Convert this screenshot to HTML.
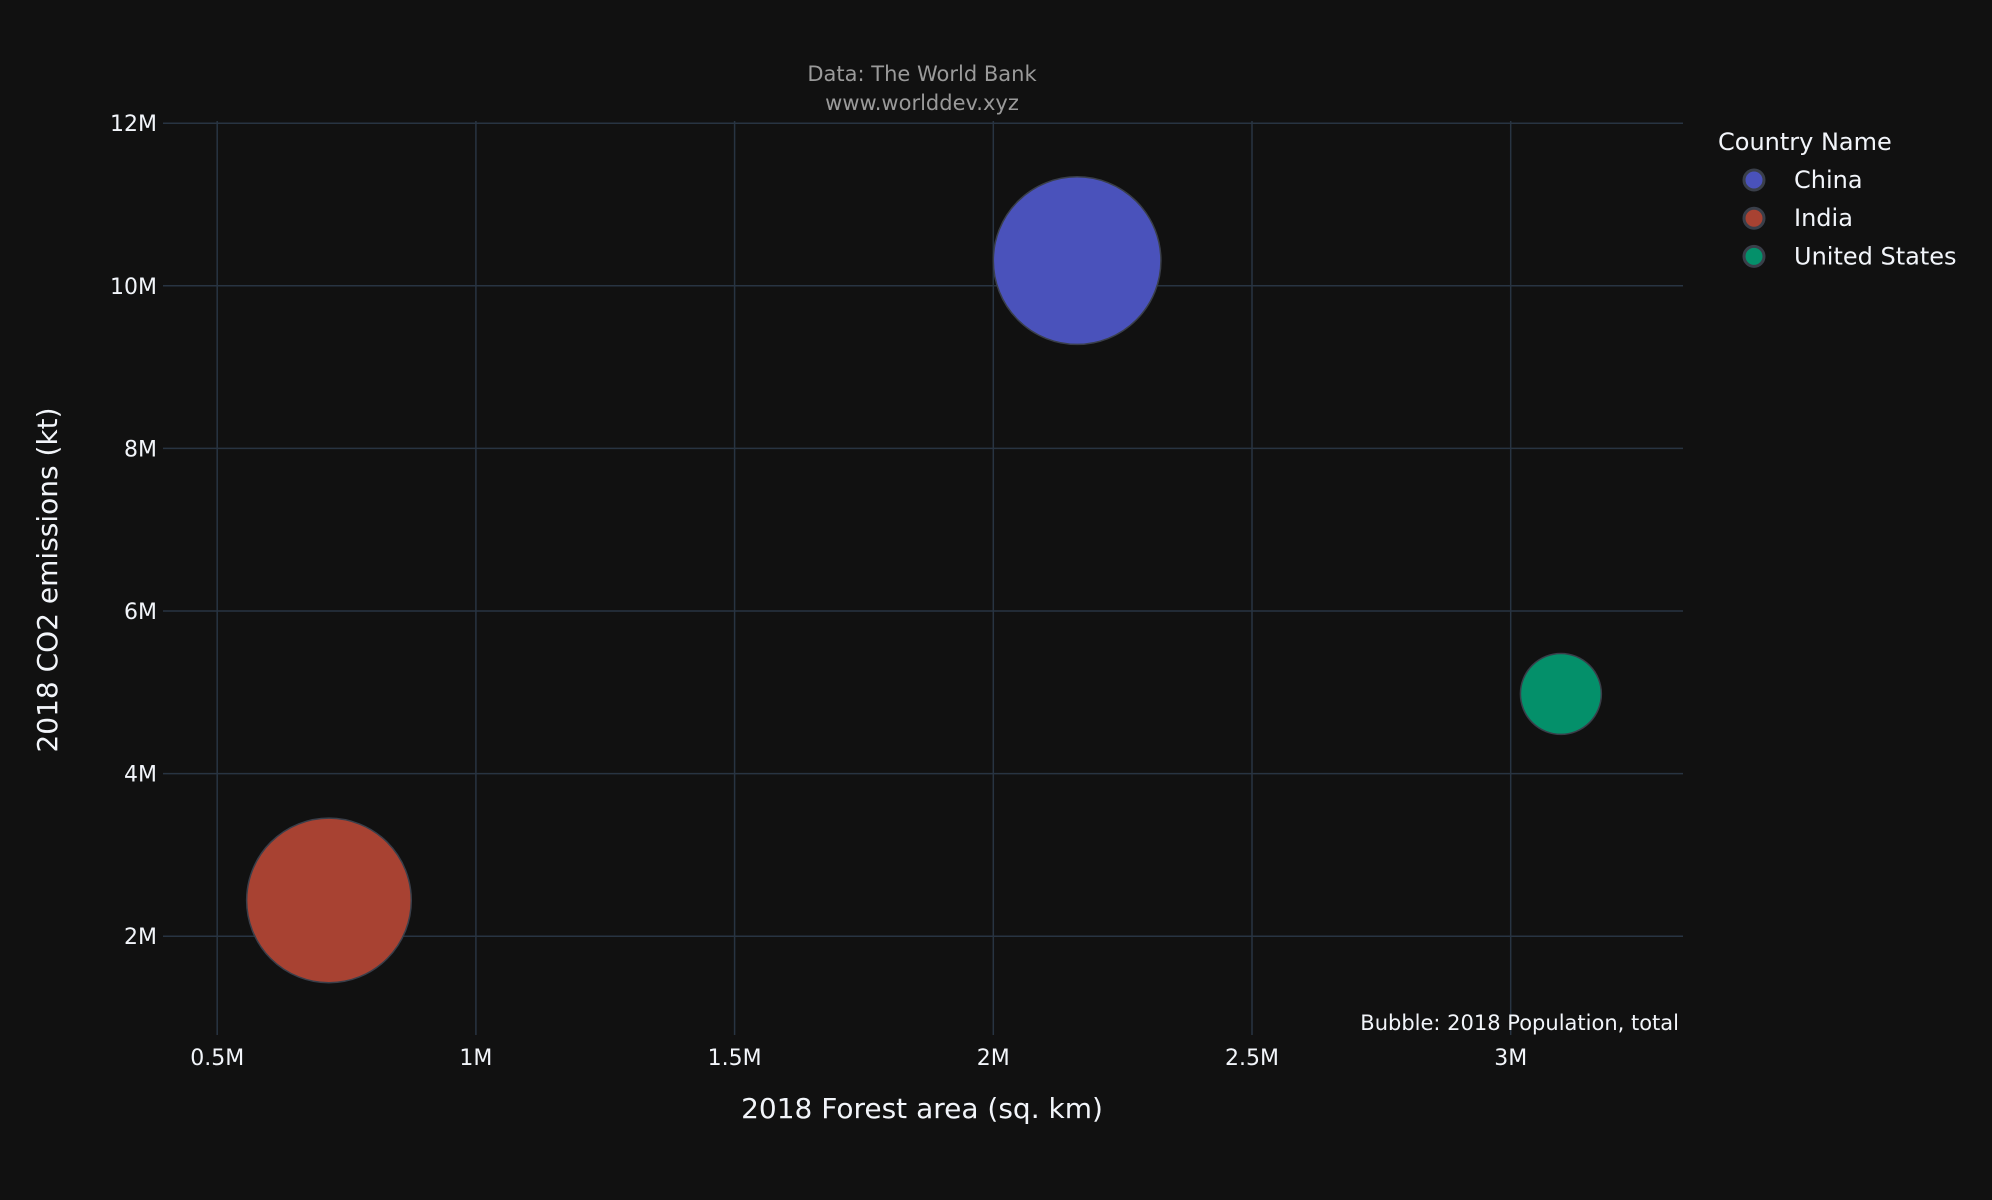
<!DOCTYPE html>
<html><head><meta charset="utf-8"><style>
body{margin:0;background:#111111;}
svg{display:block;font-family:"DejaVu Sans","Liberation Sans",sans-serif;}
</style></head><body>
<svg id="chart" width="1992" height="1200" viewBox="0 0 1992 1200">
<rect width="1992" height="1200" fill="#111111"/>
<g id="grid"></g><g id="marks"></g><g id="labels"></g>
<text x="922" y="81" text-anchor="middle" fill="#9a9a9a" font-size="21">Data: The World Bank</text>
<text x="922" y="110" text-anchor="middle" fill="#9a9a9a" font-size="21">www.worlddev.xyz</text>
<text x="922" y="1118" text-anchor="middle" fill="#f2f5fa" font-size="28">2018 Forest area (sq. km)</text>
<text transform="translate(57,580) rotate(-90)" text-anchor="middle" fill="#f2f5fa" font-size="28">2018 CO2 emissions (kt)</text>
<text x="1679" y="1030" text-anchor="end" fill="#f2f5fa" font-size="21">Bubble: 2018 Population, total</text>
<text x="1718" y="150" fill="#f2f5fa" font-size="24">Country Name</text>
<g id="legend"></g>
</svg>
<script>
const countries=["China","India","United States"];
const forestArea=[2162000,716000,3097000];
const co2=[10310000,2440000,4980000];
const population=[1402,1353,327];
const colors=["#4a52bb","#a84232","#04906a"];
const xTicks=[500000,1000000,1500000,2000000,2500000,3000000];
const xTickLabels=["0.5M","1M","1.5M","2M","2.5M","3M"];
const yTicks=[2000000,4000000,6000000,8000000,10000000,12000000];
const yTickLabels=["2M","4M","6M","8M","10M","12M"];
const L=163,R=1683,T=121,B=1035;
const xs=v=>217.2+(v-500000)/500000*258.7;
const ys=v=>123.2+(12000000-v)/2000000*162.6;
const rs=p=>83.8*Math.sqrt(p/1402);
const NS="http://www.w3.org/2000/svg";
function mk(t,a,p){const e=document.createElementNS(NS,t);for(const k in a)e.setAttribute(k,a[k]);p.appendChild(e);return e;}
const grid=document.getElementById('grid'),labels=document.getElementById('labels'),marks=document.getElementById('marks'),legend=document.getElementById('legend');
xTicks.forEach((v,i)=>{
 const l=mk('line',{x1:xs(v),x2:xs(v),y1:T,y2:B,stroke:'#283442','stroke-width':1.5},grid);
 
 
 const t=mk('text',{x:xs(v),y:1065,'text-anchor':'middle',fill:'#f2f5fa','font-size':22},labels);t.textContent=xTickLabels[i];
 
 
});
yTicks.forEach((v,i)=>{
 const l=mk('line',{x1:L,x2:R,y1:ys(v),y2:ys(v),stroke:'#283442','stroke-width':1.5},grid);
 
 
 const t=mk('text',{x:157,y:ys(v)+8,'text-anchor':'end',fill:'#f2f5fa','font-size':22},labels);t.textContent=yTickLabels[i];
 
 
});
countries.forEach((c,i)=>{
 const b=mk('circle',{cx:xs(forestArea[i]),cy:ys(co2[i]),r:rs(population[i]),fill:colors[i],stroke:'#3a3f4a','stroke-width':1.5},marks);
 
 
 const y=180+i*38.2;
 const m=mk('circle',{cx:1754,cy:y,r:10,fill:colors[i],stroke:'#3a3f4a','stroke-width':3},legend);
 
 
 const t=mk('text',{x:1794,y:y+8,fill:'#f2f5fa','font-size':24},legend);t.textContent=c;
 
 
});
</script>
</body></html>
